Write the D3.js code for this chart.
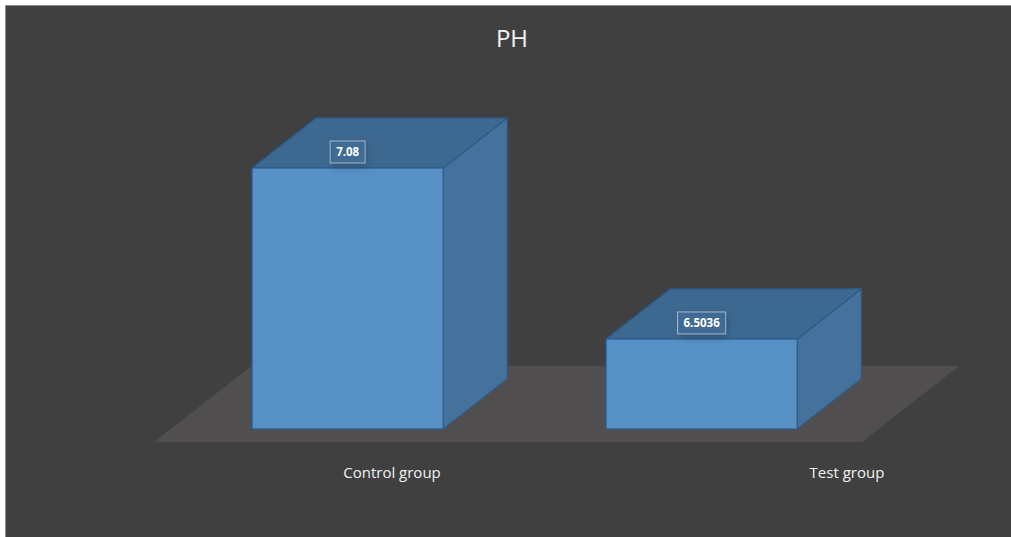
<!DOCTYPE html>
<html>
<head>
<meta charset="utf-8">
<script src="https://cdn.jsdelivr.net/npm/d3@7"></script>
<style>
    body { margin: 0; background: #ffffff; }
    text { font-family: "Open Sans", "Noto Sans", sans-serif; }
</style>
</head>
<body>
<div id="chart"></div>
<script>
// Chart data
const categories = ["Control group", "Test group"];
const values = [7.08, 6.5036];
const valueLabels = ["7.08", "6.5036"];
const chartTitle = "PH";

// Dimensions
const W = 1011, H = 537;
const baseY = 442;        // front edge of the floor
const floorDepth = 76;    // depth of the floor, in screen px
const kx = 1.28;          // horizontal shift per px of depth
const barZ0 = 13, barZ1 = 63;

const svg = d3.select("#chart").append("svg")
    .attr("width", W)
    .attr("height", H);

// Chart background with outline
svg.append("rect")
    .attr("x", 5.5)
    .attr("y", 5.5)
    .attr("width", W)
    .attr("height", H)
    .attr("fill", "#404040")
    .attr("stroke", "#8c8c8c")
    .attr("stroke-width", 1);

// Title
svg.append("text")
    .attr("x", 512)
    .attr("y", 47)
    .attr("text-anchor", "middle")
    .style("font-size", "24px")
    .attr("fill", "#f2f2f2")
    .text(chartTitle);

// Scales
const x = d3.scaleBand()
    .domain(categories)
    .range([154, 862])
    .paddingInner(0.46)
    .paddingOuter(0.23);

const h = d3.scaleLinear()
    .domain([6.2, 7.2])
    .range([0, 296.6]);

// label positions along the floor (Excel places them in perspective)
const xLabel = d3.scalePoint()
    .domain(categories)
    .range([392, 847]);

// project a point (front x, height, depth) to screen
function proj(px, ph, pz) {
    return [px + pz * kx, baseY - pz - ph];
}
const poly = pts => "M" + pts.map(p => p.join(",")).join("L") + "Z";

// Floor
const [fx0, fx1] = x.range();
svg.append("path")
    .attr("d", poly([proj(fx0, 0, 0), proj(fx1, 0, 0), proj(fx1, 0, floorDepth), proj(fx0, 0, floorDepth)]))
    .attr("fill", "#504e4f");

const edge = "#2c5b8a";

// Bars
const bars = svg.selectAll(".bar")
    .data(categories.map((c, i) => ({cat: c, value: values[i], label: valueLabels[i]})))
    .enter().append("g")
    .attr("class", "bar");

bars.each(function(d) {
    const g = d3.select(this);
    const x0 = x(d.cat), x1 = x(d.cat) + x.bandwidth();
    const hh = h(d.value);

    // right side face
    g.append("path")
        .attr("d", poly([proj(x1, 0, barZ0), proj(x1, 0, barZ1), proj(x1, hh, barZ1), proj(x1, hh, barZ0)]))
        .attr("fill", "#45729d")
        .attr("stroke", edge)
        .attr("stroke-width", 1.2)
        .attr("stroke-linejoin", "round");

    // top face
    g.append("path")
        .attr("d", poly([proj(x0, hh, barZ0), proj(x1, hh, barZ0), proj(x1, hh, barZ1), proj(x0, hh, barZ1)]))
        .attr("fill", "#3d6890")
        .attr("stroke", edge)
        .attr("stroke-width", 1.2)
        .attr("stroke-linejoin", "round");

    // front face
    const fl = proj(x0, hh, barZ0), fr = proj(x1, 0, barZ0);
    g.append("rect")
        .attr("x", fl[0])
        .attr("y", fl[1])
        .attr("width", fr[0] - fl[0])
        .attr("height", fr[1] - fl[1])
        .attr("fill", "#5690c5")
        .attr("stroke", edge)
        .attr("stroke-width", 1.2);

    // data label box
    const cx = (fl[0] + fr[0]) / 2, cy = fl[1] - 16;
    const lab = g.append("g");
    const shadow = lab.append("rect")
        .attr("fill", "#1f3550")
        .attr("opacity", 0.35);
    const box = lab.append("rect")
        .attr("fill", "#3f6b94")
        .attr("stroke", "rgba(255,255,255,0.55)")
        .attr("stroke-width", 1);
    const t = lab.append("text")
        .attr("x", cx)
        .attr("y", cy + 4)
        .attr("text-anchor", "middle")
        .style("font-size", "11.5px")
        .style("font-weight", "bold")
        .attr("fill", "#ffffff")
        .text(d.label);
    const tw = t.node().getComputedTextLength() + 12;
    box.attr("x", cx - tw / 2).attr("y", cy - 11).attr("width", tw).attr("height", 22);
    shadow.attr("x", cx - tw / 2 + 2).attr("y", cy - 9).attr("width", tw).attr("height", 24)
        .style("filter", "blur(3px)");
});

// Category labels
svg.selectAll(".cat-label")
    .data(categories)
    .enter().append("text")
    .attr("class", "cat-label")
    .attr("x", d => xLabel(d))
    .attr("y", 478)
    .attr("text-anchor", "middle")
    .style("font-size", "15px")
    .attr("fill", "#f2f2f2")
    .text(d => d);
</script>
</body>
</html>
